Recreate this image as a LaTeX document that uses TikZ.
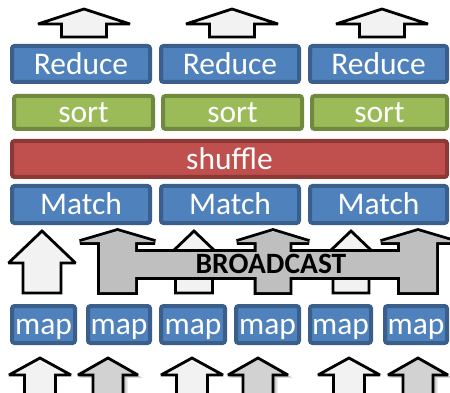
\documentclass[tikz,border=0pt]{standalone}
\usepackage{fontspec}
\setmainfont{Carlito}
\definecolor{bluefill}{HTML}{4F81BD}
\definecolor{blueline}{HTML}{3A5F8B}
\definecolor{greenfill}{HTML}{9BBB59}
\definecolor{greenline}{HTML}{71893F}
\definecolor{redfill}{HTML}{C0504D}
\definecolor{redline}{HTML}{8C3836}
\definecolor{whitearrow}{HTML}{F2F2F2}
\definecolor{grayarrow}{HTML}{BFBFBF}
\definecolor{lightgrayarrow}{HTML}{D2D2D2}
% cx, tip y, head base y, head half width, shaft half width, bottom y
\newcommand{\ArrowPath}[6]{(#1,#2) -- ({#1+#4},#3) -- ({#1+#5},#3) -- ({#1+#5},#6) -- ({#1-#5},#6) -- ({#1-#5},#3) -- ({#1-#4},#3) -- cycle}
\tikzset{
  box/.style={draw, line width=4pt, rounded corners=2.5pt, inner sep=0pt, text=white,
    font=\fontsize{31.5}{31.5}\selectfont, text height=20.5pt, text depth=0pt},
  bluebox/.style={box, draw=blueline, fill=bluefill},
  greenbox/.style={box, draw=greenline, fill=greenfill},
  redbox/.style={box, draw=redline, fill=redfill},
  whitearr/.style={draw=black, line width=2.8pt, fill=whitearrow, line join=miter, miter limit=2.5},
  grayarr/.style={draw=black, line width=2.8pt, fill=lightgrayarrow, line join=miter, miter limit=2.5},
  graygroupline/.style={draw=black, line width=5.6pt, fill=grayarrow, line join=miter, miter limit=2.5},
  graygroupfill/.style={fill=grayarrow},
}
\begin{document}
\begin{tikzpicture}[x=1pt,y=-1pt]
\useasboundingbox (0,0) rectangle (450,393);
\clip (0,0) rectangle (450,393);
% top arrows
\foreach \c in {84,232,382}{
  \draw[whitearr] \ArrowPath{\c}{9}{24}{46}{22.5}{37};
}
% Reduce
\node[bluebox, minimum width=138pt, minimum height=36pt] (r1) at (81,64) {Reduce};
\node[bluebox, minimum width=138pt, minimum height=36pt] (r2) at (230,64) {Reduce};
\node[bluebox, minimum width=137pt, minimum height=36pt] (r3) at (378.5,64) {Reduce};
% sort
\node[greenbox, minimum width=139pt, minimum height=33pt] (s1) at (83.5,112.5) {sort};
\node[greenbox, minimum width=139pt, minimum height=33pt] (s2) at (232.5,112.5) {sort};
\node[greenbox, minimum width=135pt, minimum height=33pt] (s3) at (379.5,112.5) {sort};
% shuffle
\node[redbox, minimum width=435pt, minimum height=36pt] (sh) at (229.5,159) {shuffle};
% Match
\node[bluebox, minimum width=138pt, minimum height=37pt] (m1) at (81,204.5) {Match};
\node[bluebox, minimum width=138pt, minimum height=37pt] (m2) at (230,204.5) {Match};
\node[bluebox, minimum width=137pt, minimum height=37pt] (m3) at (378.5,204.5) {Match};
% white middle arrows
\draw[whitearr] \ArrowPath{42}{231}{263}{33.5}{19}{293};
\draw[whitearr] \ArrowPath{194}{231}{263}{33.5}{18.5}{293};
\draw[whitearr] \ArrowPath{351}{231}{263}{33.5}{18}{293};
% gray broadcast group
\draw[graygroupline] \ArrowPath{117.5}{231}{242}{37.5}{17.5}{292};
\draw[graygroupline] \ArrowPath{273}{231}{242}{36}{16.5}{292};
\draw[graygroupline] \ArrowPath{418}{231}{242}{37}{18}{292};
\draw[graygroupline] (117.5,252) rectangle (418,277);
\fill[graygroupfill] \ArrowPath{117.5}{231}{242}{37.5}{17.5}{292};
\fill[graygroupfill] \ArrowPath{273}{231}{242}{36}{16.5}{292};
\fill[graygroupfill] \ArrowPath{418}{231}{242}{37}{18}{292};
\fill[graygroupfill] (117.5,252) rectangle (418,277);
\node[font=\bfseries\fontsize{29.5}{29.5}\selectfont, text=black, inner sep=0pt, text height=18.5pt, text depth=0pt] (bc) at (271,264) {BROADCAST};
% map
\node[bluebox, minimum width=63pt, minimum height=37pt] (p1) at (43.5,324.5) {map};
\node[bluebox, minimum width=62pt, minimum height=37pt] (p2) at (119,324.5) {map};
\node[bluebox, minimum width=64pt, minimum height=37pt] (p3) at (193,324.5) {map};
\node[bluebox, minimum width=63pt, minimum height=37pt] (p4) at (267.5,324.5) {map};
\node[bluebox, minimum width=61pt, minimum height=37pt] (p5) at (340.5,324.5) {map};
\node[bluebox, minimum width=62pt, minimum height=37pt] (p6) at (416,324.5) {map};
% bottom arrows
\foreach \c in {40,192,349}{
  \draw[whitearr] \ArrowPath{\c}{358}{375}{31}{15.5}{402};
}
\foreach \c in {108,258,418}{
  \fill[black, opacity=0.12] \ArrowPath{\c+3}{361}{378}{32}{16.5}{405};
  \fill[black, opacity=0.15] \ArrowPath{\c+2}{360}{377}{31}{15.5}{404};
  \draw[grayarr] \ArrowPath{\c}{358}{375}{30}{15}{402};
}
\end{tikzpicture}
\end{document}
